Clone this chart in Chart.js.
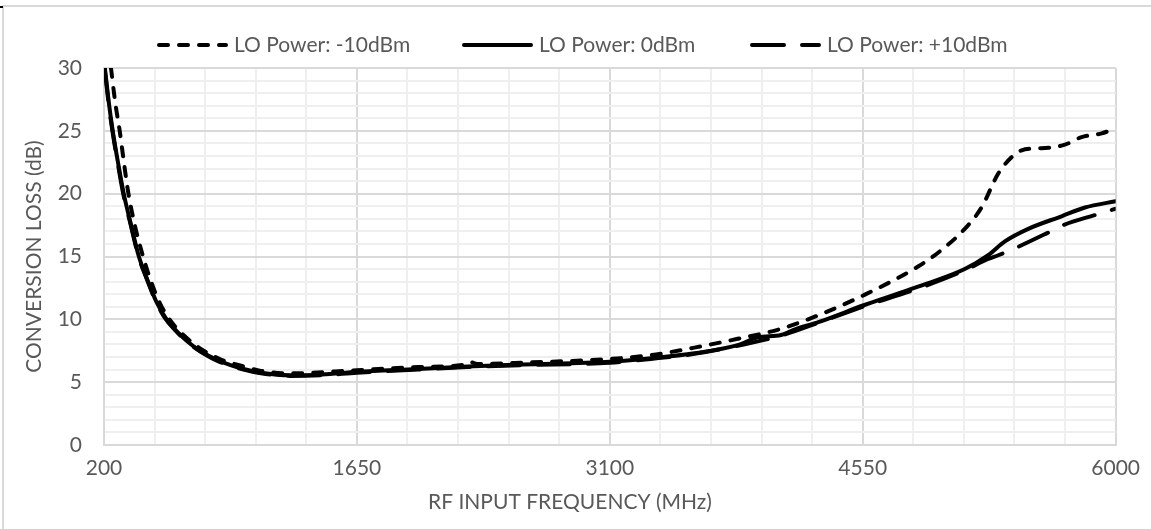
<!DOCTYPE html>
<html>
<head>
<meta charset="utf-8">
<title>Conversion loss vs RF input frequency</title>
<script src="https://cdn.jsdelivr.net/npm/chart.js@4.4.1/dist/chart.umd.min.js"></script>
<style>
  html, body { margin: 0; padding: 0; background: #fff; }
  #wrap { position: relative; width: 1151px; height: 529px; overflow: hidden; }
  #frame { position: absolute; left: 2px; top: 5px; right: 0; bottom: 0;
           border-top: 2px solid #d9d9d9; border-left: 2px solid #d9d9d9; }
  #mark { position: absolute; left: 0; top: 6px; width: 3px; height: 2px; background: #000; }
  canvas { position: absolute; left: 0; top: 0; }
</style>
</head>
<body>
<div id="wrap">
  <div id="frame"></div>
  <div id="mark"></div>
  <canvas id="lossChart" width="1151" height="529"></canvas>
</div>
<script>
/* ======================
DATA
====================== */

const seriesLabels = ["LO Power: -10dBm", "LO Power: 0dBm", "LO Power: +10dBm"];

// LO -10 dBm
const freqM10 = [240, 265, 290, 315, 340, 380, 424, 470, 520, 570, 610, 660, 710, 760, 810, 870, 1000, 1100, 1267, 1650, 2000, 2270, 2300, 2340, 2600, 3100, 3335, 3585, 3833, 4082, 4300, 4560, 4867, 4982, 5135, 5231, 5327, 5403, 5461, 5540, 5614, 5709, 5805, 5920, 6000];
const lossM10 = [30, 27.2, 25, 22.4, 20, 17.3, 15, 13.0, 11.3, 10.1, 9.4, 8.7, 8.1, 7.6, 7.2, 6.8, 6.25, 5.9, 5.7, 5.95, 6.2, 6.4, 6.6, 6.45, 6.55, 6.85, 7.15, 7.75, 8.45, 9.25, 10.35, 11.95, 14.2, 15.3, 17.2, 18.9, 21.6, 22.9, 23.45, 23.6, 23.65, 23.9, 24.5, 24.8, 25.2];

// LO 0 dBm
const freq0 = [205, 230, 250, 280, 313, 350, 400, 450, 500, 554, 600, 650, 700, 750, 800, 866, 1000, 1100, 1267, 1450, 1650, 2000, 2282, 2600, 3100, 3335, 3585, 3833, 3950, 4082, 4150, 4300, 4560, 4867, 5135, 5269, 5365, 5499, 5690, 5824, 6000];
const loss0 = [30, 27, 25, 22.5, 20, 17.8, 15, 13.1, 11.4, 10.1, 9.3, 8.6, 8.0, 7.5, 7.1, 6.65, 6.05, 5.75, 5.55, 5.6, 5.83, 6.05, 6.25, 6.4, 6.62, 6.9, 7.3, 7.95, 8.57, 8.75, 9.15, 9.8, 11.14, 12.6, 14.0, 15.1, 16.2, 17.2, 18.2, 18.9, 19.4];

// LO +10 dBm
const freqP10 = [203, 228, 248, 278, 310, 348, 398, 448, 498, 550, 600, 650, 700, 750, 800, 866, 1000, 1100, 1267, 1450, 1650, 2000, 2282, 2600, 3100, 3335, 3585, 3833, 4082, 4300, 4560, 4867, 5135, 5269, 5327, 5422, 5604, 5700, 5882, 6000];
const lossP10 = [30, 27, 25, 22.5, 20, 17.8, 15, 13.1, 11.4, 10.1, 9.25, 8.55, 7.95, 7.45, 7.05, 6.6, 6.0, 5.7, 5.5, 5.55, 5.75, 6.0, 6.2, 6.35, 6.55, 6.85, 7.25, 7.9, 8.7, 9.75, 11.05, 12.45, 13.9, 14.8, 15.1, 15.65, 16.84, 17.5, 18.3, 18.8];

// axis ticks
const xTickLabels = [200, 1650, 3100, 4550, 6000];
const xMinorStep = 290;
const yTickLabels = [0, 5, 10, 15, 20, 25, 30];

/* ======================
STYLE
====================== */

const FONT = "Lato, 'Open Sans', sans-serif";
const FONT_SIZE = 21;
const TEXT = "#595959";
const GRID_MAJOR = "#d9d9d9";
const GRID_MINOR = "#efefef";
const LEGEND_X = [157, 462, 750];

function toPoints(xs, ys) {
  return xs.map((x, i) => ({ x: x, y: ys[i] }));
}

/* ======================
LEGEND + X TITLE PLUGIN
====================== */

const legendPlugin = {
  id: "lineLegend",
  afterDraw(chart) {
    const ctx = chart.ctx;
    const lineLen = 71, textGap = 6, y = 45;
    ctx.save();
    ctx.font = FONT_SIZE + "px " + FONT;
    ctx.textBaseline = "middle";
    ctx.fillStyle = TEXT;

    chart.data.datasets.forEach((ds, i) => {
      const x = LEGEND_X[i];
      ctx.strokeStyle = ds.borderColor;
      ctx.lineWidth = ds.borderWidth;
      ctx.lineCap = "round";
      ctx.setLineDash(ds.borderDash || []);
      ctx.beginPath();
      ctx.moveTo(x + 2, y);
      ctx.lineTo(x + lineLen - 2, y);
      ctx.stroke();
      ctx.setLineDash([]);
      ctx.fillText(ds.label, x + lineLen + textGap, y);
    });

    // x axis title, centred like the original
    ctx.textAlign = "center";
    ctx.fillText("RF INPUT FREQUENCY (MHz)", 570, 502);
    ctx.restore();
  }
};

/* ======================
CREATE CHART
====================== */

const lossChart = new Chart(document.getElementById("lossChart"), {
  type: "line",
  data: {
    datasets: [
      {
        label: seriesLabels[0],
        data: toPoints(freqM10, lossM10),
        borderColor: "#000",
        borderWidth: 4,
        borderDash: [9, 11],
        borderCapStyle: "round",
      },
      {
        label: seriesLabels[1],
        data: toPoints(freq0, loss0),
        borderColor: "#000",
        borderWidth: 4,
        borderCapStyle: "round",
      },
      {
        label: seriesLabels[2],
        data: toPoints(freqP10, lossP10),
        borderColor: "#000",
        borderWidth: 4,
        borderDash: [32, 18],
        borderCapStyle: "round",
      },
    ],
  },
  options: {
    responsive: false,
    animation: false,
    devicePixelRatio: 1,
    layout: { padding: { top: 68, right: 34, bottom: 0, left: 0 } },
    elements: {
      point: { radius: 0 },
      line: { cubicInterpolationMode: "monotone", fill: false },
    },
    plugins: {
      legend: { display: false },
      tooltip: { enabled: false },
    },
    scales: {
      x: {
        type: "linear",
        min: 200,
        max: 6000,
        afterBuildTicks: scale => {
          const t = [];
          for (let v = 200; v <= 6000; v += xMinorStep) t.push({ value: v });
          scale.ticks = t;
        },
        afterFit: scale => { scale.height = 84; },
        ticks: {
          autoSkip: false,
          maxRotation: 0,
          padding: 11,
          color: TEXT,
          font: { family: FONT, size: FONT_SIZE },
          callback: v => (xTickLabels.includes(v) ? String(v) : ""),
        },
        grid: {
          drawTicks: false,
          lineWidth: 2,
          color: c => (c.tick && xTickLabels.includes(c.tick.value) ? GRID_MAJOR : GRID_MINOR),
        },
        border: { color: GRID_MAJOR, width: 2 },
      },
      y: {
        min: 0,
        max: 30,
        afterFit: scale => { scale.width = 104; },
        ticks: {
          stepSize: 1,
          autoSkip: false,
          padding: 22,
          color: TEXT,
          font: { family: FONT, size: FONT_SIZE },
          callback: v => (yTickLabels.includes(v) ? String(v) : ""),
        },
        grid: {
          drawTicks: false,
          lineWidth: 2,
          color: c => (c.tick && yTickLabels.includes(c.tick.value) ? GRID_MAJOR : GRID_MINOR),
        },
        border: { color: GRID_MAJOR, width: 2 },
        title: {
          display: true,
          text: "CONVERSION LOSS (dB)",
          color: TEXT,
          font: { family: FONT, size: FONT_SIZE },
          padding: { top: 22, bottom: 0 },
        },
      },
    },
  },
  plugins: [legendPlugin],
});
</script>
</body>
</html>
